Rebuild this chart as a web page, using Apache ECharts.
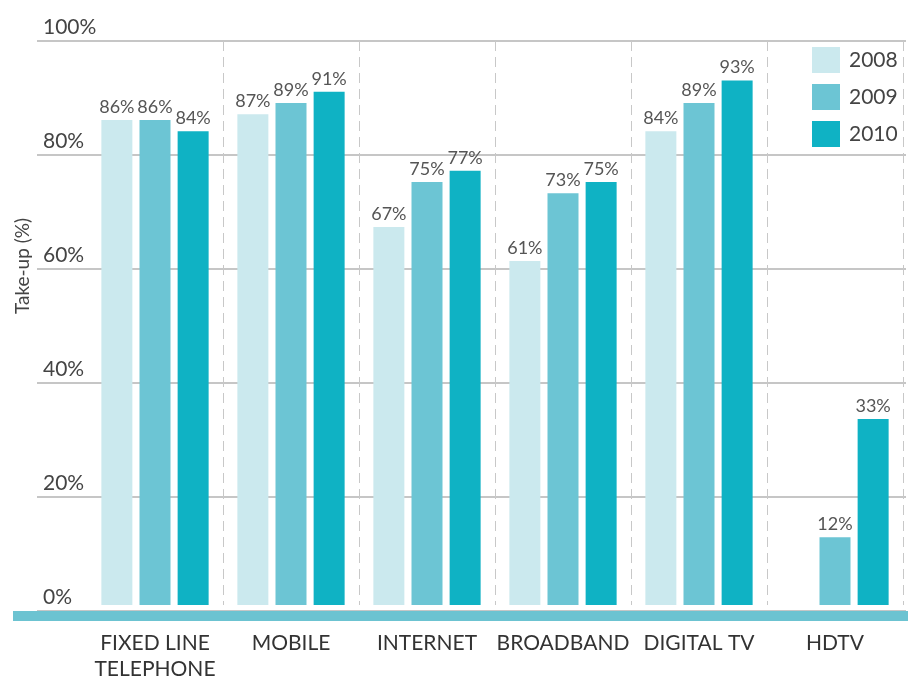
<!DOCTYPE html>
<html>
<head>
<meta charset="utf-8">
<script src="https://cdn.jsdelivr.net/npm/echarts@6/dist/echarts.min.js"></script>
<style>
html,body{margin:0;padding:0;background:#fff;}
#chart{width:914px;height:682px;}
</style>
</head>
<body>
<div id="chart"></div>
<script>
var categories = ['FIXED LINE\nTELEPHONE', 'MOBILE', 'INTERNET', 'BROADBAND', 'DIGITAL TV', 'HDTV'];
var years = ['2008', '2009', '2010'];
var values2008 = [86, 87, 67, 61, 84, null];
var values2009 = [86, 89, 75, 73, 89, 12];
var values2010 = [84, 91, 77, 75, 93, 33];
var yTicks = [0, 20, 40, 60, 80, 100];
var colors = ['#cbe9ee', '#6cc5d4', '#0fb2c4'];
var FONT = 'Lato';

var chart = echarts.init(document.getElementById('chart'));
var gridTop = 41, gridBottom = 682 - 611;

function barSeries(name, data, color) {
  return {
    name: name, type: 'bar', xAxisIndex: 2, yAxisIndex: 2,
    data: data, barWidth: 31, barGap: '23%',
    itemStyle: { color: color },
    label: { show: true, position: 'top', distance: 4, formatter: '{c}%',
      fontFamily: FONT, fontSize: 18, color: '#555' }
  };
}

chart.setOption({
  animation: false,
  backgroundColor: '#fff',
  textStyle: { fontFamily: FONT },
  grid: [
    { left: 13, right: 6, top: gridTop, bottom: gridBottom - 5 },
    { left: 37, right: 8, top: gridTop, bottom: gridBottom },
    { left: 87, right: 11, top: gridTop, bottom: gridBottom }
  ],
  legend: {
    orient: 'vertical', left: 812, top: 47, padding: 0,
    itemWidth: 28, itemHeight: 26, itemGap: 11,
    data: years,
    textStyle: { fontFamily: FONT, fontSize: 21, color: '#444', padding: [0, 0, 0, 4] },
    icon: 'rect'
  },
  graphic: [{
    type: 'text', x: 23, y: 266,
    rotation: Math.PI / 2,
    style: { text: 'Take-up (%)', fontFamily: FONT, fontSize: 19, fill: '#444',
      align: 'center', verticalAlign: 'middle' }
  }],
  xAxis: [
    { type: 'value', gridIndex: 0, min: 0, max: 1, show: true,
      axisLine: { show: false }, axisTick: { show: false }, axisLabel: { show: false }, splitLine: { show: false } },
    { type: 'value', gridIndex: 1, min: 0, max: 1, show: false },
    { type: 'category', gridIndex: 2, data: categories,
      axisLine: { show: false }, axisTick: { show: false },
      axisLabel: { interval: 0, fontFamily: FONT, fontSize: 21, color: '#333', margin: 25, lineHeight: 26 },
      splitLine: { show: true, interval: function (i) { return i > 0; },
        lineStyle: { color: '#c8c8c8', type: [10, 6], width: 1 } } }
  ],
  yAxis: [
    { type: 'value', gridIndex: 0, min: 0, max: 100, show: false },
    { type: 'value', gridIndex: 1, min: 0, max: 100, interval: 20,
      axisLine: { show: false }, axisTick: { show: false },
      axisLabel: { inside: true, margin: 6, verticalAlign: 'bottom', padding: [0, 0, 3, 0],
        fontFamily: FONT, fontSize: 21, color: '#444', formatter: '{value}%' },
      splitLine: { show: true, lineStyle: { color: '#c6c6c6', width: 2 } } },
    { type: 'value', gridIndex: 2, min: 0, max: 100, show: false }
  ],
  series: [
    barSeries(years[0], values2008, colors[0]),
    barSeries(years[1], values2009, colors[1]),
    barSeries(years[2], values2010, colors[2]),
    { type: 'line', xAxisIndex: 0, yAxisIndex: 0, data: [[0, 0], [1, 0]],
      symbol: 'none', silent: true, legendHoverLink: false,
      lineStyle: { color: '#6cc3d1', width: 10 }, z: 5 }
  ]
});
</script>
</body>
</html>
